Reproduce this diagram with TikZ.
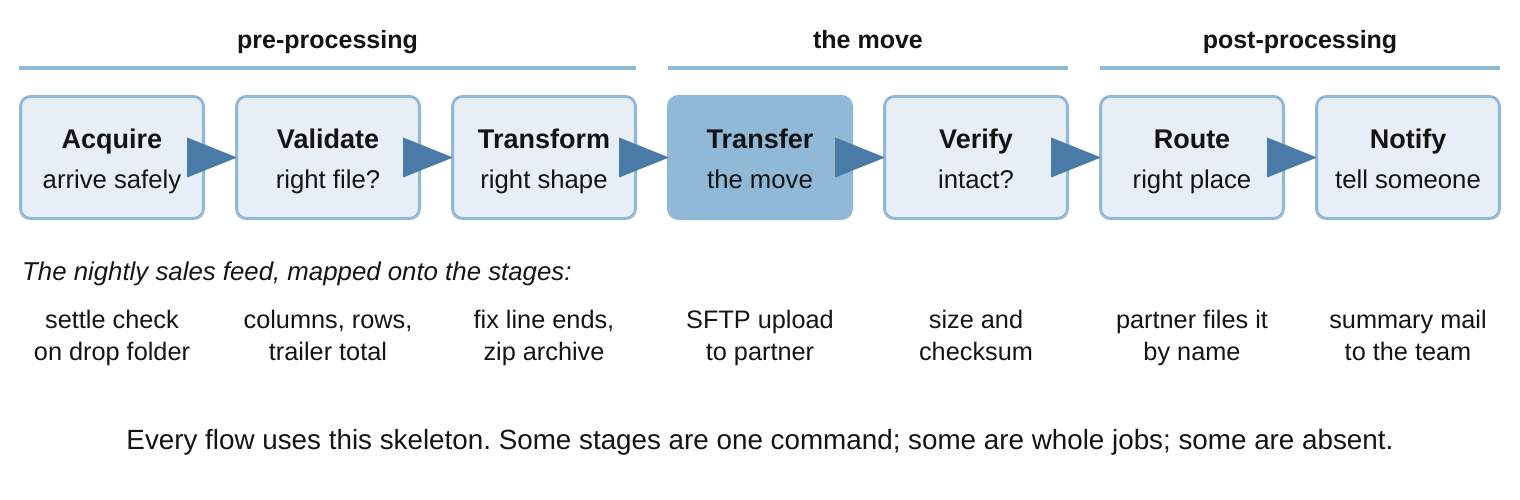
\documentclass[tikz,border=0pt]{standalone}
\usepackage{fontspec}
\setmainfont{Liberation Sans}
\usetikzlibrary{calc}
\definecolor{boxline}{RGB}{143,185,214}
\definecolor{boxfill}{RGB}{232,238,245}
\definecolor{arrowc}{RGB}{74,122,166}
\definecolor{inkc}{RGB}{20,20,20}
\frenchspacing
\begin{document}
\begin{tikzpicture}[x=1pt,y=-1pt,
  stage/.style={draw=boxline, fill=boxfill, line width=3pt, rounded corners=10pt,
    minimum width=183pt, minimum height=122pt, inner sep=0pt},
  hot/.style={stage, fill=boxline},
  ttl/.style={anchor=base, inner sep=0pt, text=inkc, font=\fontsize{27}{30}\selectfont\bfseries},
  sub/.style={anchor=base, inner sep=0pt, text=inkc, font=\fontsize{25.7}{30}\selectfont},
  hdr/.style={anchor=base, inner sep=0pt, text=inkc, font=\fontsize{25}{28}\selectfont\bfseries},
  hline/.style={draw=boxline, line width=3.5pt},
  maptxt/.style={anchor=base, inner sep=0pt, text=inkc, font=\fontsize{25.3}{28}\selectfont},
  capt/.style={anchor=base west, inner sep=0pt, text=inkc, font=\fontsize{25.8}{28}\selectfont\itshape},
  foot/.style={anchor=base, inner sep=0pt, text=inkc, font=\fontsize{27.8}{30}\selectfont},
  tri/.style={fill=arrowc}]
\useasboundingbox (0,0) rectangle (1520,500);

% group headers
\coordinate (h1a) at (19,68);   \coordinate (h1b) at (636,68);
\coordinate (h2a) at (668,68);  \coordinate (h2b) at (1068,68);
\coordinate (h3a) at (1100,68); \coordinate (h3b) at (1500,68);
\draw[hline] (h1a) -- (h1b);
\draw[hline] (h2a) -- (h2b);
\draw[hline] (h3a) -- (h3b);
\node[hdr] (hpre) at (327.5,49) {pre-processing};
\node[hdr] (hmove) at (868,49) {the move};
\node[hdr] (hpost) at (1300,49) {post-processing};

% stage boxes
\node[stage] (acq) at (112,157.5) {};
\node[stage] (val) at (328,157.5) {};
\node[stage] (tra) at (544,157.5) {};
\node[hot]   (tfr) at (760,157.5) {};
\node[stage] (ver) at (976,157.5) {};
\node[stage] (rou) at (1192,157.5) {};
\node[stage] (ntf) at (1408,157.5) {};

% titles and subtitles
\node[ttl] (acqT) at (112,148) {Acquire};
\node[sub] (acqS) at (112,188) {arrive safely};
\node[ttl] (valT) at (328,148) {Validate};
\node[sub] (valS) at (328,188) {right file?};
\node[ttl] (traT) at (544,148) {Transform};
\node[sub] (traS) at (544,188) {right shape};
\node[ttl] (tfrT) at (760,148) {Transfer};
\node[sub] (tfrS) at (760,188) {the move};
\node[ttl] (verT) at (976,148) {Verify};
\node[sub] (verS) at (976,188) {intact?};
\node[ttl] (rouT) at (1192,148) {Route};
\node[sub] (rouS) at (1192,188) {right place};
\node[ttl] (ntfT) at (1408,148) {Notify};
\node[sub] (ntfS) at (1408,188) {tell someone};

% connectors (triangles)
\foreach \a/\b in {acq/val, val/tra, tra/tfr, tfr/ver, ver/rou, rou/ntf}{
  \fill[tri] ($(\a.east)+(-18,-20)$) -- ($(\b.west)+(2,0)$) -- ($(\a.east)+(-18,20)$) -- cycle;
}

% caption
\node[capt] (cap) at (22,280) {The nightly sales feed, mapped onto the stages:};

% mapping text
\node[maptxt] (m1a) at (112,328) {settle check};
\node[maptxt] (m1b) at (112,360) {on drop folder};
\node[maptxt] (m2a) at (328,328) {columns, rows,};
\node[maptxt] (m2b) at (328,360) {trailer total};
\node[maptxt] (m3a) at (544,328) {fix line ends,};
\node[maptxt] (m3b) at (544,360) {zip archive};
\node[maptxt] (m4a) at (760,328) {SFTP upload};
\node[maptxt] (m4b) at (760,360) {to partner};
\node[maptxt] (m5a) at (976,328) {size and};
\node[maptxt] (m5b) at (976,360) {checksum};
\node[maptxt] (m6a) at (1192,328) {partner files it};
\node[maptxt] (m6b) at (1192,360) {by name};
\node[maptxt] (m7a) at (1408,328) {summary mail};
\node[maptxt] (m7b) at (1408,360) {to the team};

% footer
\node[foot] (ft) at (760,449) {Every flow uses this skeleton. Some stages are one command; some are whole jobs; some are absent.};
\end{tikzpicture}
\end{document}
